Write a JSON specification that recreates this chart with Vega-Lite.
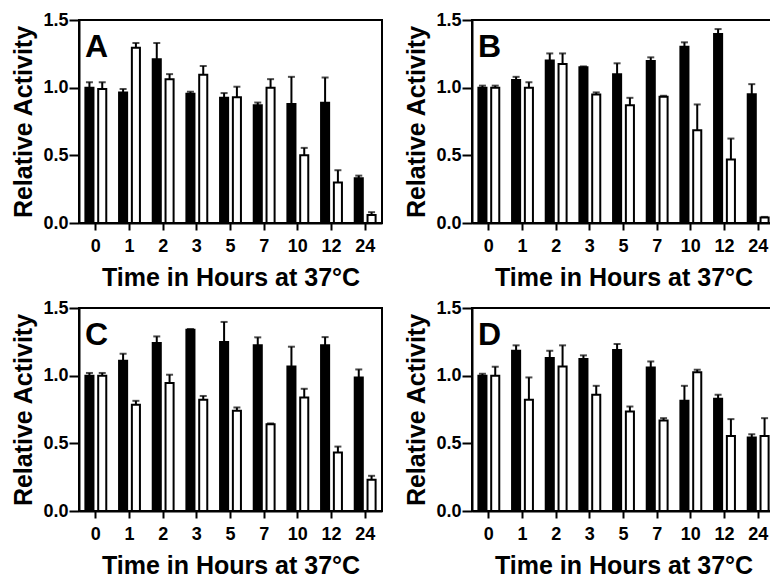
{
  "$schema": "https://vega.github.io/schema/vega-lite/v6.json",
  "background": "white",
  "padding": {"left": 10, "top": 10, "right": 0, "bottom": 0},
  "datasets": {
    "d": [
      {"panel":"A","time":"0","series":"a","value":1.00,"upper":1.04},
      {"panel":"A","time":"0","series":"b","value":0.99,"upper":1.04},
      {"panel":"A","time":"1","series":"a","value":0.965,"upper":0.99},
      {"panel":"A","time":"1","series":"b","value":1.295,"upper":1.33},
      {"panel":"A","time":"2","series":"a","value":1.21,"upper":1.33},
      {"panel":"A","time":"2","series":"b","value":1.063,"upper":1.10},
      {"panel":"A","time":"3","series":"a","value":0.955,"upper":0.97},
      {"panel":"A","time":"3","series":"b","value":1.095,"upper":1.16},
      {"panel":"A","time":"5","series":"a","value":0.925,"upper":0.96},
      {"panel":"A","time":"5","series":"b","value":0.93,"upper":1.007},
      {"panel":"A","time":"7","series":"a","value":0.87,"upper":0.89},
      {"panel":"A","time":"7","series":"b","value":1.0,"upper":1.063},
      {"panel":"A","time":"10","series":"a","value":0.88,"upper":1.08},
      {"panel":"A","time":"10","series":"b","value":0.50,"upper":0.555},
      {"panel":"A","time":"12","series":"a","value":0.888,"upper":1.075},
      {"panel":"A","time":"12","series":"b","value":0.30,"upper":0.39},
      {"panel":"A","time":"24","series":"a","value":0.33,"upper":0.35},
      {"panel":"A","time":"24","series":"b","value":0.06,"upper":0.08},

      {"panel":"B","time":"0","series":"a","value":1.0,"upper":1.015},
      {"panel":"B","time":"0","series":"b","value":1.0,"upper":1.015},
      {"panel":"B","time":"1","series":"a","value":1.056,"upper":1.08},
      {"panel":"B","time":"1","series":"b","value":1.0,"upper":1.04},
      {"panel":"B","time":"2","series":"a","value":1.2,"upper":1.253},
      {"panel":"B","time":"2","series":"b","value":1.175,"upper":1.253},
      {"panel":"B","time":"3","series":"a","value":1.15,"upper":1.157},
      {"panel":"B","time":"3","series":"b","value":0.95,"upper":0.965},
      {"panel":"B","time":"5","series":"a","value":1.10,"upper":1.18},
      {"panel":"B","time":"5","series":"b","value":0.87,"upper":0.925},
      {"panel":"B","time":"7","series":"a","value":1.197,"upper":1.224},
      {"panel":"B","time":"7","series":"b","value":0.933,"upper":0.94},
      {"panel":"B","time":"10","series":"a","value":1.303,"upper":1.335},
      {"panel":"B","time":"10","series":"b","value":0.686,"upper":0.876},
      {"panel":"B","time":"12","series":"a","value":1.397,"upper":1.433},
      {"panel":"B","time":"12","series":"b","value":0.469,"upper":0.624},
      {"panel":"B","time":"24","series":"a","value":0.952,"upper":1.026},
      {"panel":"B","time":"24","series":"b","value":0.04,"upper":0.045},

      {"panel":"C","time":"0","series":"a","value":1.0,"upper":1.02},
      {"panel":"C","time":"0","series":"b","value":1.0,"upper":1.02},
      {"panel":"C","time":"1","series":"a","value":1.11,"upper":1.162},
      {"panel":"C","time":"1","series":"b","value":0.785,"upper":0.814},
      {"panel":"C","time":"2","series":"a","value":1.241,"upper":1.29},
      {"panel":"C","time":"2","series":"b","value":0.945,"upper":1.007},
      {"panel":"C","time":"3","series":"a","value":1.34,"upper":1.345},
      {"panel":"C","time":"3","series":"b","value":0.822,"upper":0.85},
      {"panel":"C","time":"5","series":"a","value":1.248,"upper":1.397},
      {"panel":"C","time":"5","series":"b","value":0.74,"upper":0.765},
      {"panel":"C","time":"7","series":"a","value":1.224,"upper":1.283},
      {"panel":"C","time":"7","series":"b","value":0.641,"upper":0.647},
      {"panel":"C","time":"10","series":"a","value":1.068,"upper":1.214},
      {"panel":"C","time":"10","series":"b","value":0.839,"upper":0.903},
      {"panel":"C","time":"12","series":"a","value":1.224,"upper":1.285},
      {"panel":"C","time":"12","series":"b","value":0.432,"upper":0.476},
      {"panel":"C","time":"24","series":"a","value":0.987,"upper":1.046},
      {"panel":"C","time":"24","series":"b","value":0.23,"upper":0.26},

      {"panel":"D","time":"0","series":"a","value":1.0,"upper":1.014},
      {"panel":"D","time":"0","series":"b","value":1.0,"upper":1.066},
      {"panel":"D","time":"1","series":"a","value":1.184,"upper":1.224},
      {"panel":"D","time":"1","series":"b","value":0.822,"upper":0.987},
      {"panel":"D","time":"2","series":"a","value":1.13,"upper":1.184},
      {"panel":"D","time":"2","series":"b","value":1.068,"upper":1.224},
      {"panel":"D","time":"3","series":"a","value":1.123,"upper":1.15},
      {"panel":"D","time":"3","series":"b","value":0.859,"upper":0.925},
      {"panel":"D","time":"5","series":"a","value":1.19,"upper":1.234},
      {"panel":"D","time":"5","series":"b","value":0.735,"upper":0.772},
      {"panel":"D","time":"7","series":"a","value":1.06,"upper":1.105},
      {"panel":"D","time":"7","series":"b","value":0.669,"upper":0.686},
      {"panel":"D","time":"10","series":"a","value":0.814,"upper":0.925},
      {"panel":"D","time":"10","series":"b","value":1.026,"upper":1.044},
      {"panel":"D","time":"12","series":"a","value":0.829,"upper":0.859},
      {"panel":"D","time":"12","series":"b","value":0.555,"upper":0.679},
      {"panel":"D","time":"24","series":"a","value":0.543,"upper":0.567},
      {"panel":"D","time":"24","series":"b","value":0.555,"upper":0.686}
    ]
  },
  "config": {
    "font": "Liberation Sans",
    "view": {"stroke": "black", "strokeWidth": 2},
    "axis": {
      "labelFont": "Liberation Sans", "labelFontWeight": "bold", "labelFontSize": 18, "labelColor": "black",
      "titleFont": "Liberation Sans", "titleFontWeight": "bold", "titleFontSize": 25, "titleColor": "black",
      "domainColor": "black", "domainWidth": 2, "tickColor": "black", "tickWidth": 2, "grid": false
    },
    "axisY": {"labelFlush": false},
    "title": {"font": "Liberation Sans", "fontWeight": "bold", "fontSize": 32, "color": "black", "anchor": "start", "frame": "group", "baseline": "top", "offset": -53, "dx": 6}
  },
  "vconcat": [
    {"hconcat": [
      {"width": 303, "height": 203, "title": "A", "data": {"name": "d"},
       "transform": [{"filter": "datum.panel == 'A'"}],
       "encoding": {
         "x": {"field": "time", "type": "nominal", "sort": ["0","1","2","3","5","7","10","12","24"], "scale": {"paddingInner": 0.38, "paddingOuter": 0.19}, "axis": {"title": "Time in Hours at 37°C", "labelAngle": 0, "tickSize": 7, "labelPadding": 7, "titlePadding": 10}},
         "xOffset": {"field": "series", "type": "nominal", "scale": {"paddingInner": 0.37}}
       },
       "layer": [
         {"mark": {"type": "bar", "stroke": "black", "strokeWidth": 2},
          "encoding": {"y": {"field": "value", "type": "quantitative", "title": "Relative Activity", "scale": {"domain": [0, 1.5], "nice": false}, "axis": {"values": [0,0.25,0.5,0.75,1,1.25,1.5], "labelFlush": false, "labelExpr": "(datum.value*4) % 2 == 0 ? format(datum.value, '.1f') : ''", "tickSize": {"condition": {"test": "(datum.value*4) % 2 == 0", "value": 10}, "value": 5}, "labelPadding": 1, "titlePadding": 6}},
                       "fill": {"field": "series", "type": "nominal", "scale": {"range": ["black", "white"]}, "legend": null}}},
         {"mark": {"type": "rule", "strokeWidth": 2, "color": "black"},
          "encoding": {"y": {"field": "value", "type": "quantitative", "title": "Relative Activity"}, "y2": {"field": "upper"}}},
         {"mark": {"type": "tick", "thickness": 2, "size": 7, "color": "black"},
          "encoding": {"y": {"field": "upper", "type": "quantitative", "title": "Relative Activity"}}}
       ]},
      {"width": 303, "height": 203, "title": "B", "data": {"name": "d"},
       "transform": [{"filter": "datum.panel == 'B'"}],
       "encoding": {
         "x": {"field": "time", "type": "nominal", "sort": ["0","1","2","3","5","7","10","12","24"], "scale": {"paddingInner": 0.38, "paddingOuter": 0.19}, "axis": {"title": "Time in Hours at 37°C", "labelAngle": 0, "tickSize": 7, "labelPadding": 7, "titlePadding": 10}},
         "xOffset": {"field": "series", "type": "nominal", "scale": {"paddingInner": 0.37}}
       },
       "layer": [
         {"mark": {"type": "bar", "stroke": "black", "strokeWidth": 2},
          "encoding": {"y": {"field": "value", "type": "quantitative", "title": "Relative Activity", "scale": {"domain": [0, 1.5], "nice": false}, "axis": {"values": [0,0.25,0.5,0.75,1,1.25,1.5], "labelFlush": false, "labelExpr": "(datum.value*4) % 2 == 0 ? format(datum.value, '.1f') : ''", "tickSize": {"condition": {"test": "(datum.value*4) % 2 == 0", "value": 10}, "value": 5}, "labelPadding": 1, "titlePadding": 6}},
                       "fill": {"field": "series", "type": "nominal", "scale": {"range": ["black", "white"]}, "legend": null}}},
         {"mark": {"type": "rule", "strokeWidth": 2, "color": "black"},
          "encoding": {"y": {"field": "value", "type": "quantitative", "title": "Relative Activity"}, "y2": {"field": "upper"}}},
         {"mark": {"type": "tick", "thickness": 2, "size": 7, "color": "black"},
          "encoding": {"y": {"field": "upper", "type": "quantitative", "title": "Relative Activity"}}}
       ]}
    ], "spacing": 20},
    {"hconcat": [
      {"width": 303, "height": 203, "title": "C", "data": {"name": "d"},
       "transform": [{"filter": "datum.panel == 'C'"}],
       "encoding": {
         "x": {"field": "time", "type": "nominal", "sort": ["0","1","2","3","5","7","10","12","24"], "scale": {"paddingInner": 0.38, "paddingOuter": 0.19}, "axis": {"title": "Time in Hours at 37°C", "labelAngle": 0, "tickSize": 7, "labelPadding": 7, "titlePadding": 10}},
         "xOffset": {"field": "series", "type": "nominal", "scale": {"paddingInner": 0.37}}
       },
       "layer": [
         {"mark": {"type": "bar", "stroke": "black", "strokeWidth": 2},
          "encoding": {"y": {"field": "value", "type": "quantitative", "title": "Relative Activity", "scale": {"domain": [0, 1.5], "nice": false}, "axis": {"values": [0,0.25,0.5,0.75,1,1.25,1.5], "labelFlush": false, "labelExpr": "(datum.value*4) % 2 == 0 ? format(datum.value, '.1f') : ''", "tickSize": {"condition": {"test": "(datum.value*4) % 2 == 0", "value": 10}, "value": 5}, "labelPadding": 1, "titlePadding": 6}},
                       "fill": {"field": "series", "type": "nominal", "scale": {"range": ["black", "white"]}, "legend": null}}},
         {"mark": {"type": "rule", "strokeWidth": 2, "color": "black"},
          "encoding": {"y": {"field": "value", "type": "quantitative", "title": "Relative Activity"}, "y2": {"field": "upper"}}},
         {"mark": {"type": "tick", "thickness": 2, "size": 7, "color": "black"},
          "encoding": {"y": {"field": "upper", "type": "quantitative", "title": "Relative Activity"}}}
       ]},
      {"width": 303, "height": 203, "title": "D", "data": {"name": "d"},
       "transform": [{"filter": "datum.panel == 'D'"}],
       "encoding": {
         "x": {"field": "time", "type": "nominal", "sort": ["0","1","2","3","5","7","10","12","24"], "scale": {"paddingInner": 0.38, "paddingOuter": 0.19}, "axis": {"title": "Time in Hours at 37°C", "labelAngle": 0, "tickSize": 7, "labelPadding": 7, "titlePadding": 10}},
         "xOffset": {"field": "series", "type": "nominal", "scale": {"paddingInner": 0.37}}
       },
       "layer": [
         {"mark": {"type": "bar", "stroke": "black", "strokeWidth": 2},
          "encoding": {"y": {"field": "value", "type": "quantitative", "title": "Relative Activity", "scale": {"domain": [0, 1.5], "nice": false}, "axis": {"values": [0,0.25,0.5,0.75,1,1.25,1.5], "labelFlush": false, "labelExpr": "(datum.value*4) % 2 == 0 ? format(datum.value, '.1f') : ''", "tickSize": {"condition": {"test": "(datum.value*4) % 2 == 0", "value": 10}, "value": 5}, "labelPadding": 1, "titlePadding": 6}},
                       "fill": {"field": "series", "type": "nominal", "scale": {"range": ["black", "white"]}, "legend": null}}},
         {"mark": {"type": "rule", "strokeWidth": 2, "color": "black"},
          "encoding": {"y": {"field": "value", "type": "quantitative", "title": "Relative Activity"}, "y2": {"field": "upper"}}},
         {"mark": {"type": "tick", "thickness": 2, "size": 7, "color": "black"},
          "encoding": {"y": {"field": "upper", "type": "quantitative", "title": "Relative Activity"}}}
       ]}
    ], "spacing": 20}
  ],
  "spacing": 7
}
